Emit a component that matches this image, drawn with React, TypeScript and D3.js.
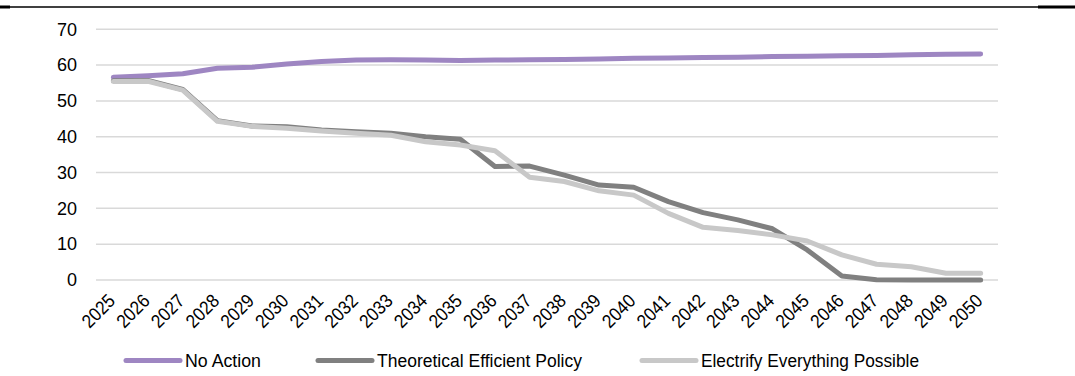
import React from "react";
import * as d3 from "d3";

const years = ["2025","2026","2027","2028","2029","2030","2031","2032","2033","2034","2035","2036","2037","2038","2039","2040","2041","2042","2043","2044","2045","2046","2047","2048","2049","2050"];
const noAction = [56.6,57.0,57.6,59.1,59.4,60.3,61.0,61.4,61.5,61.4,61.3,61.4,61.5,61.6,61.7,61.9,62.0,62.1,62.2,62.4,62.5,62.6,62.7,62.9,63.0,63.1];
const efficient = [55.6,55.7,53.2,44.5,43.0,42.8,41.9,41.4,41.0,40.0,39.3,31.7,31.8,29.3,26.5,25.9,21.9,18.8,16.8,14.3,8.4,1.1,0.1,0.0,0.0,0.0];
const electrify = [55.4,55.5,53.0,44.3,42.9,42.4,41.6,41.0,40.4,38.6,37.7,36.1,28.7,27.5,24.9,23.7,18.6,14.7,13.8,12.6,10.9,7.0,4.4,3.7,1.9,1.9];
const yTicks = [0,10,20,30,40,50,60,70];
const seriesNames = ["No Action","Theoretical Efficient Policy","Electrify Everything Possible"];
const seriesColors = ["#9e86c2","#808080","#c8c8c8"];

const FONT = "'Liberation Sans', Arial, sans-serif";

export default function App() {
  const W = 1075, H = 376;
  const x = d3.scaleBand().domain(years).range([96, 998]);
  const y = d3.scaleLinear().domain([0, 70]).range([280, 29.3]);
  const cx = (d: string) => (x(d) as number) + x.bandwidth() / 2;
  const line = d3.line<number>().x((_, i) => cx(years[i])).y((v) => y(v));
  const data = [noAction, efficient, electrify];
  const legendX = [126, 318, 642];
  return (
    <svg width={W} height={H} style={{ position: "absolute", left: 0, top: 0 }}>
      <rect width={W} height={H} fill="#fff" />
      <line x1={0} x2={W} y1={7} y2={7} stroke="#000" strokeWidth={1.3} />
      <line x1={0} x2={10} y1={7} y2={7} stroke="#000" strokeWidth={3} />
      <line x1={1038} x2={W} y1={7} y2={7} stroke="#000" strokeWidth={3} />
      {yTicks.map((t) => (
        <g key={t}>
          <line x1={96} x2={998} y1={y(t)} y2={y(t)} stroke="#d9d9d9" strokeWidth={1.5} />
          <text x={77} y={y(t)} dy="0.35em" textAnchor="end" fontFamily={FONT} fontSize={18} fill="#000">{t}</text>
        </g>
      ))}
      {years.map((yr) => (
        <text key={yr} transform={`translate(${cx(yr) + 3},${302}) rotate(-45) scale(0.95,1.05)`} textAnchor="end" fontFamily={FONT} fontSize={18} fill="#000">{yr}</text>
      ))}
      {data.map((s, i) => (
        <path key={i} d={line(s) || ""} fill="none" stroke={seriesColors[i]} strokeWidth={5} strokeLinejoin="round" strokeLinecap="round" />
      ))}
      {seriesNames.map((n, i) => (
        <g key={n}>
          <line x1={legendX[i]} x2={legendX[i] + 54} y1={360.5} y2={360.5} stroke={seriesColors[i]} strokeWidth={5} strokeLinecap="round" />
          <text x={legendX[i] + 59} y={360.5} dy="0.35em" fontFamily={FONT} fontSize={18} fill="#000" textLength={i === 1 ? 205 : i === 2 ? 218 : 76} lengthAdjust="spacingAndGlyphs">{n}</text>
        </g>
      ))}
    </svg>
  );
}
